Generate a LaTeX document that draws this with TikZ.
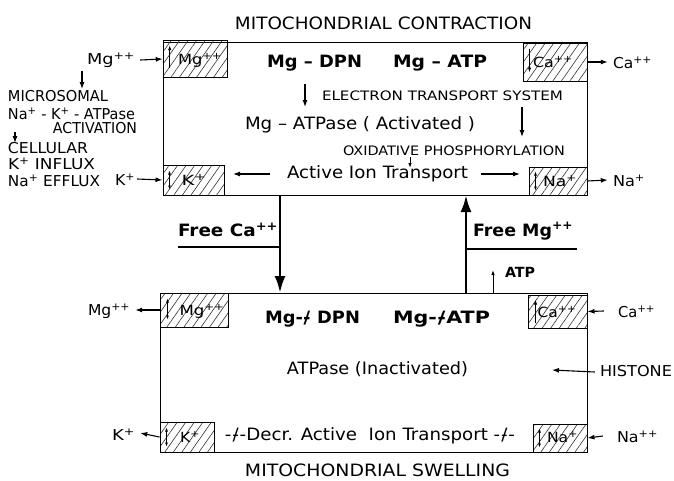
\documentclass[tikz,border=0pt]{standalone}
\usepackage{fontspec}
\setmainfont{DejaVu Sans}
\usetikzlibrary{arrows.meta,patterns.meta}
\newcommand{\fw}[2]{\resizebox{#1pt}{\height}{#2}}
\newcommand{\sps}[1]{\textsuperscript{#1}}
\newcommand{\xdash}{\makebox[0.45em][c]{-}\kern-0.45em\makebox[0.45em][c]{/}}
\begin{document}
\begin{tikzpicture}[x=1pt,y=-1pt,
  mainbox/.style={draw,line width=1pt,inner sep=0pt},
  hatchbox/.style={draw,line width=1pt,inner sep=0pt,
     pattern={Lines[angle=55,distance=7pt,line width=0.6pt]},pattern color=black!80},
  txt/.style={inner sep=0pt,anchor=center},
  arr/.style={-{Latex[length=7pt,width=5pt]},line width=1.1pt},
  sarr/.style={-{Latex[length=5pt,width=3.5pt]},line width=0.9pt},
  darr/.style={{Latex[length=4pt,width=3pt]}-{Latex[length=4pt,width=3pt]},line width=0.8pt},
  bigarr/.style={-{Latex[length=17pt,width=11pt]},line width=2.8pt},
  bar/.style={line width=1.5pt}]
\useasboundingbox (0,0) rectangle (674,480);

% main boxes
\node[mainbox,minimum width=424pt,minimum height=153pt] (top) at (375,118.5) {};
\node[mainbox,minimum width=427pt,minimum height=159pt] (bot) at (373.5,372.5) {};

% hatched boxes top
\node[hatchbox,minimum width=64pt,minimum height=37pt] (mgT) at (195,59) {};
\node[hatchbox,minimum width=64pt,minimum height=38pt] (caT) at (555,62) {};
\node[hatchbox,minimum width=61pt,minimum height=30pt] (kT) at (193.5,180) {};
\node[hatchbox,minimum width=58pt,minimum height=28pt] (naT) at (558,181) {};
% hatched boxes bottom
\node[hatchbox,minimum width=68pt,minimum height=34pt] (mgB) at (194,310) {};
\node[hatchbox,minimum width=59pt,minimum height=33pt] (caB) at (557.5,311.5) {};
\node[hatchbox,minimum width=54pt,minimum height=30pt] (kB) at (187,437) {};
\node[hatchbox,minimum width=54pt,minimum height=28pt] (naB) at (560,438) {};

% labels in hatched boxes
\node[txt,font=\fontsize{14}{14}\selectfont] (mgTl) at (200,60) {\fw{44}{Mg\sps{++}}};
\node[txt,font=\fontsize{14}{14}\selectfont] (caTl) at (553,62) {\fw{40}{Ca\sps{++}}};
\node[txt,font=\fontsize{14}{14}\selectfont] (kTl) at (194,180) {\fw{25}{K\sps{+}}};
\node[txt,font=\fontsize{14}{14}\selectfont] (naTl) at (560,181) {\fw{34}{Na\sps{+}}};
\node[txt,font=\fontsize{14}{14}\selectfont] (mgBl) at (202,311) {\fw{45}{Mg\sps{++}}};
\node[txt,font=\fontsize{14}{14}\selectfont] (caBl) at (557,312) {\fw{39}{Ca\sps{++}}};
\node[txt,font=\fontsize{14}{14}\selectfont] (kBl) at (190,437) {\fw{20}{K\sps{+}}};
\node[txt,font=\fontsize{14}{14}\selectfont] (naBl) at (562.5,437) {\fw{31}{Na\sps{+}}};

% small arrows inside hatched boxes
\draw[sarr] ([xshift=7pt,yshift=-28pt]mgT.north west) -- ([xshift=7pt,yshift=-5pt]mgT.north west);
\draw[sarr] ([xshift=7pt,yshift=-6pt]caT.north west) -- ([xshift=7pt,yshift=-30pt]caT.north west);
\draw[darr] ([xshift=7pt,yshift=-6pt]kT.north west) -- ([xshift=7pt,yshift=-25pt]kT.north west);
\draw[darr] ([xshift=7pt,yshift=-5pt]naT.north west) -- ([xshift=7pt,yshift=-24pt]naT.north west);
\draw[darr] ([xshift=8pt,yshift=-6pt]mgB.north west) -- ([xshift=8pt,yshift=-27pt]mgB.north west);
\draw[sarr] ([xshift=8pt,yshift=-28pt]caB.north west) -- ([xshift=8pt,yshift=-5pt]caB.north west);
\draw[darr] ([xshift=7pt,yshift=-6pt]kB.north west) -- ([xshift=7pt,yshift=-25pt]kB.north west);
\draw[darr] ([xshift=7pt,yshift=-5pt]naB.north west) -- ([xshift=7pt,yshift=-24pt]naB.north west);

% titles
\node[txt,font=\fontsize{17}{17}\selectfont] (t1) at (383.5,23) {\fw{297}{MITOCHONDRIAL CONTRACTION}};
\node[txt,font=\fontsize{17}{17}\selectfont] (t2) at (377.5,470) {\fw{265}{MITOCHONDRIAL SWELLING}};

% top box content
\node[txt,font=\bfseries\fontsize{17}{17}\selectfont] (mgdpn) at (314.5,63) {\fw{95}{Mg – DPN}};
\node[txt,font=\bfseries\fontsize{17}{17}\selectfont] (mgatp) at (440,63) {\fw{94}{Mg – ATP}};
\node[txt,font=\fontsize{13}{13}\selectfont] (ets) at (442.5,96) {\fw{241}{ELECTRON TRANSPORT SYSTEM}};
\node[txt,font=\fontsize{17}{17}\selectfont] (atpA) at (360,125) {\fw{230}{Mg – ATPase ( Activated )}};
\node[txt,font=\fontsize{13}{13}\selectfont] (oxp) at (454,151) {\fw{222}{OXIDATIVE PHOSPHORYLATION}};
\node[txt,font=\fontsize{17}{17}\selectfont] (ait) at (377.5,174) {\fw{181}{Active Ion Transport}};
\coordinate (a1s) at (305,84); \coordinate (a1e) at (305,107);
\draw[arr] (a1s) -- (a1e);
\coordinate (a2s) at (522,107); \coordinate (a2e) at (522,137);
\draw[arr] (a2s) -- (a2e);
\coordinate (a3s) at (410,157); \coordinate (a3e) at (410,168);
\draw[sarr] (a3s) -- (a3e);
\coordinate (aitL) at (233,174); \coordinate (aitR) at (520,174);
\draw[arr] ([xshift=-17pt]ait.west) -- (aitL);
\draw[arr] ([xshift=13pt]ait.east) -- (aitR);

% left side
\node[txt,font=\fontsize{15}{15}\selectfont] (mgL) at (111,60) {\fw{48}{Mg\sps{++}}};
\node[txt,font=\fontsize{15}{15}\selectfont] (micro) at (58,96) {\fw{100}{MICROSOMAL}};
\node[txt,font=\fontsize{15}{15}\selectfont] (nak) at (71.5,114) {\fw{127}{Na\sps{+} - K\sps{+} - ATPase}};
\node[txt,font=\fontsize{15}{15}\selectfont] (activ) at (95,128) {\fw{84}{ACTIVATION}};
\node[txt,font=\fontsize{15}{15}\selectfont] (cell) at (48,148) {\fw{80}{CELLULAR}};
\node[txt,font=\fontsize{15}{15}\selectfont] (kin) at (51.5,164) {\fw{87}{K\sps{+} INFLUX}};
\node[txt,font=\fontsize{15}{15}\selectfont] (naef) at (54,181) {\fw{92}{Na\sps{+} EFFLUX}};
\node[txt,font=\fontsize{15}{15}\selectfont] (kL) at (125,180) {\fw{20}{K\sps{+}}};
\draw[arr] ([xshift=5pt]mgL.east) -- (mgT.west);
\draw[arr] ([xshift=2pt,yshift=1pt]kL.east) -- (kT.west);
\draw[arr] (82,71) -- (82,89);
\draw[arr] (15,132) -- (15,143);

% right side top
\node[txt,font=\fontsize{15}{15}\selectfont] (caR) at (632.5,63) {\fw{39}{Ca\sps{++}}};
\node[txt,font=\fontsize{15}{15}\selectfont] (naR) at (629,181) {\fw{32}{Na\sps{+}}};
\draw[arr] (caT.east) -- ([xshift=-5pt,yshift=1pt]caR.west);
\draw[arr] (naT.east) -- ([xshift=-5pt,yshift=1pt]naR.west);

% middle
\coordinate (dnS) at (280,195); \coordinate (dnE) at (280,293);
\draw[bigarr] (dnS) -- (dnE);
\coordinate (upS) at (466,293); \coordinate (upE) at (466,195);
\draw[bigarr] (upS) -- (upE);
\node[txt,font=\bfseries\fontsize{17}{17}\selectfont] (freeCa) at (228,230) {\fw{100}{Free Ca\sps{++}}};
\node[txt,font=\bfseries\fontsize{17}{17}\selectfont] (freeMg) at (523,231) {\fw{100}{Free Mg\sps{++}}};
\coordinate (fcL) at (178,247); \coordinate (fcR) at (280,247);
\draw[bar] (fcL) -- (fcR);
\coordinate (fmL) at (466,249); \coordinate (fmR) at (577,249);
\draw[bar] (fmL) -- (fmR);
\node[txt,font=\bfseries\fontsize{14}{14}\selectfont] (atpN) at (520,272) {\fw{30}{ATP}};
\coordinate (atS) at (493,293); \coordinate (atE) at (493,270);
\draw[sarr] (atS) -- (atE);

% bottom box content
\node[txt,font=\bfseries\fontsize{17}{17}\selectfont] (mgdpn2) at (312.5,319) {\fw{95}{Mg-\xdash{} DPN}};
\node[txt,font=\bfseries\fontsize{17}{17}\selectfont] (mgatp2) at (441.5,319) {\fw{97}{Mg-\xdash{}ATP}};
\node[txt,font=\fontsize{17}{17}\selectfont] (atpI) at (377.5,369) {\fw{181}{ATPase (Inactivated)}};
\node[txt,font=\fontsize{17}{17}\selectfont] (decr) at (370,436) {\fw{290}{-\xdash-Decr. Active \ Ion Transport -\xdash-}};

% bottom sides
\node[txt,font=\fontsize{15}{15}\selectfont] (mgL2) at (109,311) {\fw{42}{Mg\sps{++}}};
\node[txt,font=\fontsize{15}{15}\selectfont] (kL2) at (123.5,435) {\fw{23}{K\sps{+}}};
\draw[arr] (mgB.west) -- ([xshift=5pt,yshift=1pt]mgL2.east);
\draw[arr] (kB.west) -- ([xshift=5pt,yshift=2pt]kL2.east);
\node[txt,font=\fontsize{15}{15}\selectfont] (caR2) at (636.5,312) {\fw{37}{Ca\sps{++}}};
\node[txt,font=\fontsize{15}{15}\selectfont] (naR2) at (637.5,437) {\fw{41}{Na\sps{++}}};
\node[txt,font=\fontsize{15}{15}\selectfont] (hist) at (636,371) {\fw{72}{HISTONE}};
\draw[arr] ([xshift=-14pt,yshift=1pt]caR2.west) -- (caB.east);
\draw[arr] ([xshift=-14pt,yshift=1pt]naR2.west) -- (naB.east);
\coordinate (hE) at (552,370);
\draw[arr] ([xshift=-5pt,yshift=-1pt]hist.west) -- (hE);
\end{tikzpicture}
\end{document}
